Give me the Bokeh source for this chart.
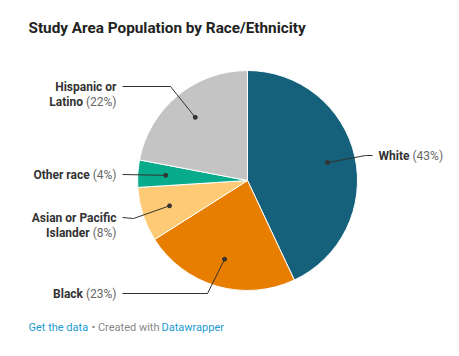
import math
from bokeh.plotting import figure
from bokeh.models import Range1d, ColumnDataSource
from bokeh.core.properties import value
from bokeh.embed import file_html
from bokeh.resources import INLINE

# ---- data ----
categories = ["White", "Black", "Asian or Pacific Islander", "Other race", "Hispanic or Latino"]
shares = [43, 23, 8, 4, 22]
label_lines = [["White"], ["Black"], ["Asian or Pacific", "Islander"], ["Other race"], ["Hispanic or", "Latino"]]
colors = ["#15607a", "#e87e00", "#ffca76", "#08ab8c", "#c4c4c4"]

# ---- layout (pixel coords, y downward from top of plot) ----
W, H = 443, 340
CX, CY, R = 247, 180, 110
DOT_R = 0.745 * R
label_pos = [
    (378, 155, "left"),
    (116, 293, "right"),
    (116, 232, "right"),
    (116, 174, "right"),
    (116, 101, "right"),
]
elbows = [(365, 155), (207, 293), (133, 218), (122, 174), (170, 86)]
LINE_H = 15

def Y(py):
    return H - py

FONT = value("Roboto")

p = figure(width=W, height=H, output_backend="svg", toolbar_location=None,
           x_range=Range1d(0, W), y_range=Range1d(0, H), min_border=0)
p.axis.visible = False
p.grid.visible = False
p.outline_line_color = None
p.background_fill_color = "white"
p.border_fill_color = "white"

total = sum(shares)
cum = 0
starts, ends, mids = [], [], []
for s in shares:
    a0 = math.pi / 2 - 2 * math.pi * cum / total
    a1 = math.pi / 2 - 2 * math.pi * (cum + s) / total
    starts.append(a1)
    ends.append(a0)
    mids.append((a0 + a1) / 2)
    cum += s

src = ColumnDataSource(dict(start=starts, end=ends, color=colors))
p.wedge(x=CX, y=Y(CY), radius=R, start_angle="start", end_angle="end",
        fill_color="color", line_color="white", line_width=1, source=src)

RW = {"(": 0.342, ")": 0.348, "%": 0.7324, " ": 0.2476}
def w_reg(t, size=12):
    return sum(RW.get(c, 0.5615) for c in t) * size

FS = "12px"
for i, (cat, s) in enumerate(zip(categories, shares)):
    dx = CX + DOT_R * math.cos(mids[i])
    dy = Y(CY) + DOT_R * math.sin(mids[i])
    lx, ly, align = label_pos[i]
    ex, ey = elbows[i]
    lines = label_lines[i]
    n = len(lines)
    first_y = ly - LINE_H * (n - 1)
    endx = lx - 6 if align == "left" else lx + 6
    p.line([dx, ex, endx], [dy, Y(ey), Y(first_y)], line_color="#333333", line_width=1)
    p.scatter([dx], [dy], size=4, color="#333333")
    pct = "(%d%%)" % s
    pw = w_reg(" " + pct)
    for j, t in enumerate(lines):
        yy = Y(ly - LINE_H * (n - 1 - j))
        last = (j == n - 1)
        if align == "left":
            p.text([lx], [yy], text=[t], text_font=FONT, text_font_style="bold",
                   text_font_size=FS, text_color="#333333", text_align="left", text_baseline="middle")
            if last:
                p.text([lx + 34], [yy], text=[pct], text_font=FONT, text_font_size=FS,
                       text_color="#666666", text_align="left", text_baseline="middle")
        else:
            if last:
                p.text([lx], [yy], text=[pct], text_font=FONT, text_font_size=FS,
                       text_color="#666666", text_align="right", text_baseline="middle")
                p.text([lx - pw], [yy], text=[t], text_font=FONT, text_font_style="bold",
                       text_font_size=FS, text_color="#333333", text_align="right", text_baseline="middle")
            else:
                p.text([lx], [yy], text=[t], text_font=FONT, text_font_style="bold",
                       text_font_size=FS, text_color="#333333", text_align="right", text_baseline="middle")

# title
p.text([28], [Y(27)], text=["Study Area Population by Race/Ethnicity"], text_font=FONT,
       text_font_style="bold", text_font_size="15.3px", text_color="#222222",
       text_align="left", text_baseline="middle")

# footer
p.text([28], [Y(327)], text=["Get the data"], text_font=FONT, text_font_size="11px",
       text_color="#1d9bd1", text_align="left", text_baseline="middle")
p.text([28 + 63], [Y(327)], text=["• Created with"], text_font=FONT, text_font_size="11px",
       text_color="#888888", text_align="left", text_baseline="middle")
p.text([28 + 133], [Y(327)], text=["Datawrapper"], text_font=FONT, text_font_size="11px",
       text_color="#1d9bd1", text_align="left", text_baseline="middle")

open("out.html", "w").write(file_html(p, INLINE))
